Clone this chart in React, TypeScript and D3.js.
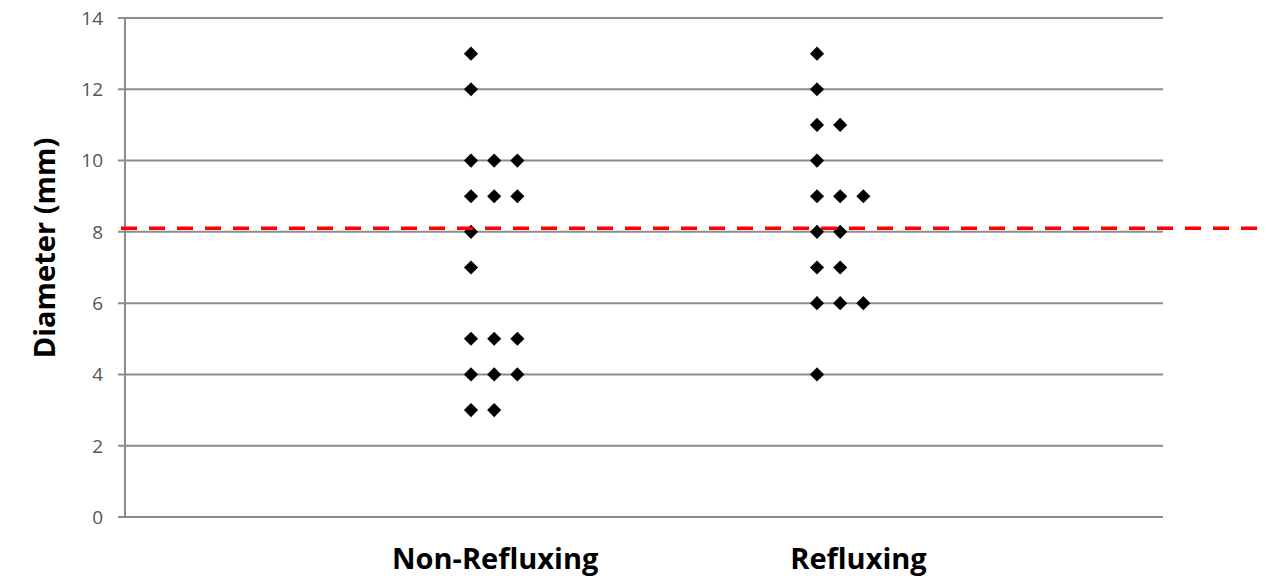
import React from "react";
import * as d3 from "d3";

const width = 1266;
const height = 580;

const categories = ["Non-Refluxing", "Refluxing"];
const nonRefluxing = [13, 12, 10, 10, 10, 9, 9, 9, 8, 7, 5, 5, 5, 4, 4, 4, 3, 3];
const refluxing = [13, 12, 11, 11, 10, 9, 9, 9, 8, 8, 7, 7, 6, 6, 6, 4];
const yTicks = [0, 2, 4, 6, 8, 10, 12, 14];
const cutoff = 8.1;

const margin = { left: 125, right: 103, top: 18, bottom: 63 };

// stack repeated values sideways, like the original dot plot
function layout(values: number[], group: number) {
  const seen: Record<number, number> = {};
  return values.map((v) => {
    const k = seen[v] || 0;
    seen[v] = k + 1;
    return { x: group + 1 + k * 0.067, y: v };
  });
}

const App = () => {
  const x = d3.scaleLinear().domain([0, 3]).range([margin.left, width - margin.right]);
  const y = d3.scaleLinear().domain([0, 14]).range([height - margin.bottom, margin.top]);

  const points = [...layout(nonRefluxing, 0), ...layout(refluxing, 1)];
  const diamond = d3.symbol(d3.symbolSquare, 100)() as string;

  const font = "'Open Sans', sans-serif";

  return (
    <svg width={width} height={height} style={{ position: "absolute", left: 0, top: 0 }}>
      <rect width={width} height={height} fill="#fff" />
      {yTicks.map((t) => (
        <g key={t}>
          <line x1={x(0) - 7} x2={x(3)} y1={y(t)} y2={y(t)} stroke="#8c8c8c" strokeWidth={2} />
          <text
            x={x(0) - 22}
            y={y(t)}
            dy="0.36em"
            textAnchor="end"
            fontFamily={font}
            fontSize={19}
            fill="#555"
          >
            {t}
          </text>
        </g>
      ))}
      <line x1={x(0)} x2={x(0)} y1={y(0)} y2={y(14)} stroke="#8c8c8c" strokeWidth={2} />

      {points.map((p, i) => (
        <path
          key={i}
          d={diamond}
          transform={`translate(${x(p.x)},${y(p.y)}) rotate(45)`}
          fill="#000"
        />
      ))}

      <line
        x1={x(0) - 4}
        x2={width - 9}
        y1={y(cutoff)}
        y2={y(cutoff)}
        stroke="#ff0000"
        strokeWidth={3.5}
        strokeDasharray="16 12"
      />

      {categories.map((c, i) => (
        <text
          key={c}
          x={x(i + 1.07 + i * 0.05)}
          y={height - 11}
          textAnchor="middle"
          fontFamily={font}
          fontWeight="bold"
          fontSize={29}
          fill="#000"
        >
          {c}
        </text>
      ))}
      <text
        transform={`translate(55,248) rotate(-90)`}
        textAnchor="middle"
        fontFamily={font}
        fontWeight="bold"
        fontSize={29}
        fill="#000"
      >
        Diameter (mm)
      </text>
    </svg>
  );
};

export default App;
